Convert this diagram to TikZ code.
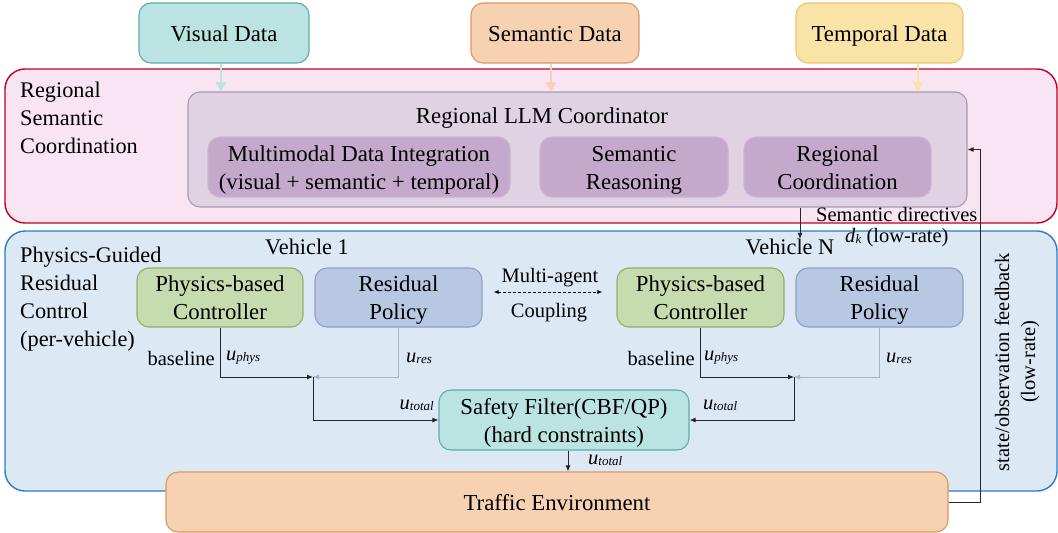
\documentclass[tikz,border=0pt]{standalone}
\usepackage{fontspec}
\setmainfont{Liberation Serif}
\usetikzlibrary{arrows.meta,calc}
\definecolor{tealF}{HTML}{BAE3E1}\definecolor{tealD}{HTML}{5BADAB}
\definecolor{peachF}{HTML}{F6D2B2}\definecolor{peachD}{HTML}{DB9762}
\definecolor{yelF}{HTML}{F9E3A7}\definecolor{yelD}{HTML}{E6C670}
\definecolor{pinkF}{HTML}{F8E4F2}\definecolor{pinkD}{HTML}{C00020}
\definecolor{llmF}{HTML}{E0D1E3}\definecolor{llmD}{HTML}{A99BB3}
\definecolor{purF}{HTML}{C5A9CC}\definecolor{purD}{HTML}{CDB4D3}
\definecolor{bluF}{HTML}{DDE8F5}\definecolor{bluD}{HTML}{2B7BC6}
\definecolor{grnF}{HTML}{C6DBAF}\definecolor{grnD}{HTML}{8BB26A}
\definecolor{resF}{HTML}{B8C8E3}\definecolor{resD}{HTML}{8DA1C8}
\definecolor{grayA}{HTML}{A6B4C8}
\newcommand{\usub}[1]{\textit{u}{\fontsize{13}{13}\selectfont\raisebox{-1pt}{\textit{#1}}}}
\newcommand{\bs}{\rule[-6pt]{0pt}{28pt}}
\tikzset{
  box/.style={draw, rounded corners=12pt, line width=1.1pt, align=center, inner sep=0pt,
    font=\fontsize{22.8}{28}\selectfont},
  region/.style={draw, rounded corners=20pt, line width=1.4pt},
  lbl/.style={font=\fontsize{20.5}{26}\selectfont, inner sep=0pt},
  big/.style={font=\fontsize{22.3}{28}\selectfont, inner sep=0pt, align=left},
  arr/.style={-{Latex[length=6pt,width=5pt]}, line width=0.9pt, draw=black!85},
  arrg/.style={-{Latex[length=6pt,width=5pt]}, line width=0.9pt, draw=grayA},
  inarr/.style={-{Triangle[length=9pt,width=10pt]}, line width=2.2pt},
}
\begin{document}
\begin{tikzpicture}[x=1pt,y=-1pt]
\useasboundingbox (0,0) rectangle (1058,533);
% regions
\draw[region, fill=pinkF, draw=pinkD] (5,69) rectangle (1057,223);
\draw[region, fill=bluF, draw=bluD] (5,231) rectangle (1057,491);
\node[big, anchor=north west] (rsc) at (20,82) {Regional\\Semantic\\Coordination};
\node[big, anchor=north west] (pgr) at (20,247) {Physics-Guided\\Residual\\Control\\(per-vehicle)};
% top data boxes
\node[box, fill=tealF, draw=tealD, minimum width=170pt, minimum height=60pt] (vis) at (224,33) {\bs Visual Data};
\node[box, fill=peachF, draw=peachD, minimum width=168pt, minimum height=60pt] (sem) at (555,33) {\bs Semantic Data};
\node[box, fill=yelF, draw=yelD, minimum width=167pt, minimum height=60pt] (tem) at (879.5,33) {\bs Temporal Data};
% LLM coordinator
\node[box, fill=llmF, draw=llmD, minimum width=779pt, minimum height=115pt] (llm) at (577.5,149.5) {};
\node[box, draw=none, inner sep=0pt] (llmt) at (542,115) {\bs Regional LLM Coordinator};
\node[box, fill=purF, draw=purD, minimum width=302pt, minimum height=60pt] (mm) at (359,167) {\bs Multimodal Data Integration\\\bs(visual + semantic + temporal)};
\node[box, fill=purF, draw=purD, minimum width=188pt, minimum height=60pt] (sr) at (634,167) {\bs Semantic\\\bs Reasoning};
\node[box, fill=purF, draw=purD, minimum width=187pt, minimum height=60pt] (rc) at (837.5,167) {\bs Regional\\\bs Coordination};
% input arrows
\draw[inarr, draw=tealF, fill=tealF] ([xshift=-3pt]vis.south) -- ([xshift=-3pt]vis.south |- llm.north);
\draw[inarr, draw=peachF, fill=peachF] ([xshift=-4pt]sem.south) -- ([xshift=-4pt]sem.south |- llm.north);
\draw[inarr, draw=yelF, fill=yelF] ([xshift=38.5pt]tem.south) -- ([xshift=38.5pt]tem.south |- llm.north);
% vehicle labels
\node[big] (v1) at (307,247) {Vehicle 1};
\node[big] (vN) at (790,247) {Vehicle N};
% controllers
\node[box, fill=grnF, draw=grnD, minimum width=166pt, minimum height=59pt] (pc1) at (220,297.5) {\bs Physics-based\\\bs Controller};
\node[box, fill=resF, draw=resD, minimum width=167pt, minimum height=59pt] (rp1) at (398.5,297.5) {\bs Residual\\\bs Policy};
\node[box, fill=grnF, draw=grnD, minimum width=167pt, minimum height=59pt] (pcN) at (700.5,297.5) {\bs Physics-based\\\bs Controller};
\node[box, fill=resF, draw=resD, minimum width=167pt, minimum height=59pt] (rpN) at (879.5,297.5) {\bs Residual\\\bs Policy};
% safety filter and environment
\node[box, fill=tealF, draw=tealD, minimum width=250pt, minimum height=60pt] (sf) at (564,420) {\bs Safety Filter(CBF/QP)\\\bs(hard constraints)};
\node[box, fill=peachF, draw=peachD, minimum width=782pt, minimum height=60pt] (te) at (557,502) {\bs Traffic Environment};
% multi-agent coupling
\node[lbl] (ma) at (550,278) {Multi-agent};
\node[lbl] (cp) at (549,313) {Coupling};
\draw[densely dashed, line width=0.8pt, {Latex[length=5pt,width=4pt]}-{Latex[length=5pt,width=4pt]}]
  ($(rp1.east)+(11,-5.5)$) -- ($(pcN.west)+(-14,-5.5)$);
% junctions
\coordinate (j1) at (313,377);
\coordinate (jN) at (794,377);
\draw[arr] (pc1.south) |- (j1);
\draw[arrg] (rp1.south) |- (j1);
\draw[arr] (j1) |- (sf.west);
\draw[arr] (pcN.south) |- (jN);
\draw[arrg] (rpN.south) |- (jN);
\draw[arr] (jN) |- (sf.east);
\draw[arr] ([xshift=4pt]sf.south) -- ([xshift=4pt]sf.south |- te.north);
% signal labels
\node[lbl, anchor=east] (b1) at (215,358) {baseline};
\node[lbl, anchor=west] (up1) at (226,358) {\usub{phys}};
\node[lbl, anchor=west] (ur1) at (406,358) {\usub{res}};
\node[lbl, anchor=east] (ut1) at (434,405) {\usub{total}};
\node[lbl, anchor=east] (bN) at (695,358) {baseline};
\node[lbl, anchor=west] (upN) at (704,358) {\usub{phys}};
\node[lbl, anchor=west] (urN) at (886,358) {\usub{res}};
\node[lbl, anchor=west] (utN) at (703,405) {\usub{total}};
\node[lbl, anchor=west] (ut3) at (588,460) {\usub{total}};
% semantic directives
\node[lbl, anchor=west] (sd) at (816,214) {Semantic directives};
\node[lbl, anchor=west] (dk) at (845,238) {\textit{d}{\fontsize{13}{13}\selectfont\raisebox{-1pt}{\textit{k}}} (low-rate)};
\draw[arr] ([xshift=222.5pt]llm.south) -- ([xshift=222.5pt]llm.south |- vN.north);
% feedback
\coordinate (fbx) at (980,0);
\draw[arr] (te.east) -| (fbx |- llm.east) -- (llm.east);
\node[lbl, rotate=90, align=center] (fb) at (1017,362) {state/observation feedback\\(low-rate)};
\end{tikzpicture}
\end{document}
